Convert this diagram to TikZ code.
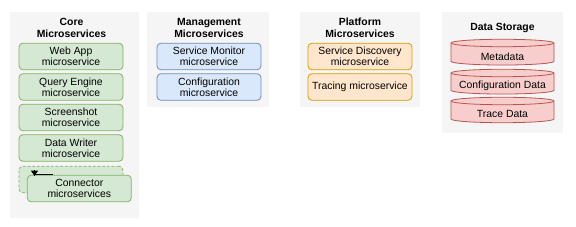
\documentclass[tikz,border=0pt]{standalone}
\usepackage{fontspec}
\setmainfont{Liberation Sans}
\usetikzlibrary{arrows.meta}
\definecolor{panelbg}{HTML}{F5F5F5}
\definecolor{gfill}{HTML}{D5E8D4}
\definecolor{gline}{HTML}{82B366}
\definecolor{bfill}{HTML}{DAE8FC}
\definecolor{bline}{HTML}{6C8EBF}
\definecolor{ofill}{HTML}{FFE6CC}
\definecolor{oline}{HTML}{D79B00}
\definecolor{rfill}{HTML}{F8CECC}
\definecolor{rline}{HTML}{B85450}
\tikzset{
  panel/.style={fill=panelbg, draw=none, inner sep=0pt},
  ptitle/.style={font=\fontsize{7.8}{9}\selectfont\bfseries, align=center, inner sep=0pt},
  svc/.style={rounded corners=3pt, line width=0.6pt, minimum width=78pt, minimum height=20pt,
    inner sep=0pt, align=center, font=\fontsize{7.8}{8.4}\selectfont},
  green/.style={svc, fill=gfill, draw=gline},
  blue/.style={svc, fill=bfill, draw=bline},
  orange/.style={svc, fill=ofill, draw=oline},
  dashedgreen/.style={svc, fill=gfill, draw=gline, dashed, dash pattern=on 2pt off 1.5pt},
  cyl/.style={fill=rfill, draw=rline, line width=0.6pt},
  cyltext/.style={font=\fontsize{7.8}{8.4}\selectfont, inner sep=0pt},
}
\begin{document}
\begin{tikzpicture}[x=0.75pt,y=-0.75pt]
\useasboundingbox (0,0) rectangle (576,227);
% panels
\node[panel, minimum width=96.75pt, minimum height=154.5pt] (core) at (74.5,115) {};
\node[panel, minimum width=91.5pt, minimum height=71.25pt] (mgmt) at (208,59.5) {};
\node[panel, minimum width=90pt, minimum height=71.25pt] (plat) at (360,59.5) {};
\node[panel, minimum width=90.75pt, minimum height=90.75pt] (data) at (502.5,72.5) {};
% titles
\node[ptitle] (coret) at (71.5,28) {Core\\Microservices};
\node[ptitle] (mgmtt) at (209,28) {Management\\Microservices};
\node[ptitle] (platt) at (360,28) {Platform\\Microservices};
\node[ptitle] (datat) at (502.5,28) {Data Storage};
% core boxes
\node[green] (webapp) at (71,56.5) {Web App\\microservice};
\node[green] (query) at (71,87) {Query Engine\\microservice};
\node[green] (shot) at (71,117.5) {Screenshot\\microservice};
\node[green] (writer) at (71,148) {Data Writer\\microservice};
\node[dashedgreen] (connback) at (71,179.5) {};
\node[green] (conn) at (79.3,188.5) {Connector\\microservices};
\coordinate (arrA) at (53,174.5);
\coordinate (arrB) at (34.5,174.5);
\coordinate (arrC) at (34.5,170.5);
\coordinate (arrD) at (34.5,176);
\draw[line width=0.6pt] (arrA) -- (arrB);
\draw[line width=0.6pt, -{Triangle[width=5.2pt,length=4pt]}] (arrC) -- (arrD);
% management
\node[blue] (monitor) at (209,56.5) {Service Monitor\\microservice};
\node[blue] (config) at (209,87) {Configuration\\microservice};
% platform
\node[orange] (disc) at (360,56.5) {Service Discovery\\microservice};
\node[orange] (trace) at (360,87) {Tracing microservice};
% data storage cylinders
\foreach \T/\B in {39.3/65, 69.3/94, 97.3/122.7}{
  \path[cyl] (451,\T+3.7) -- (451,\B-3.7)
     arc[start angle=180,end angle=360,x radius=38.625pt,y radius=2.8pt]
     -- (554,\T+3.7)
     arc[start angle=0,end angle=180,x radius=38.625pt,y radius=2.8pt] -- cycle;
  \draw[rline, line width=0.6pt] (451,\T+3.7)
     arc[start angle=180,end angle=360,x radius=38.625pt,y radius=2.8pt];
}
\node[cyltext] (meta) at (502.5,57) {Metadata};
\node[cyltext] (confd) at (502.5,86) {Configuration Data};
\node[cyltext] (traced) at (502.5,113.5) {Trace Data};
\end{tikzpicture}
\end{document}
